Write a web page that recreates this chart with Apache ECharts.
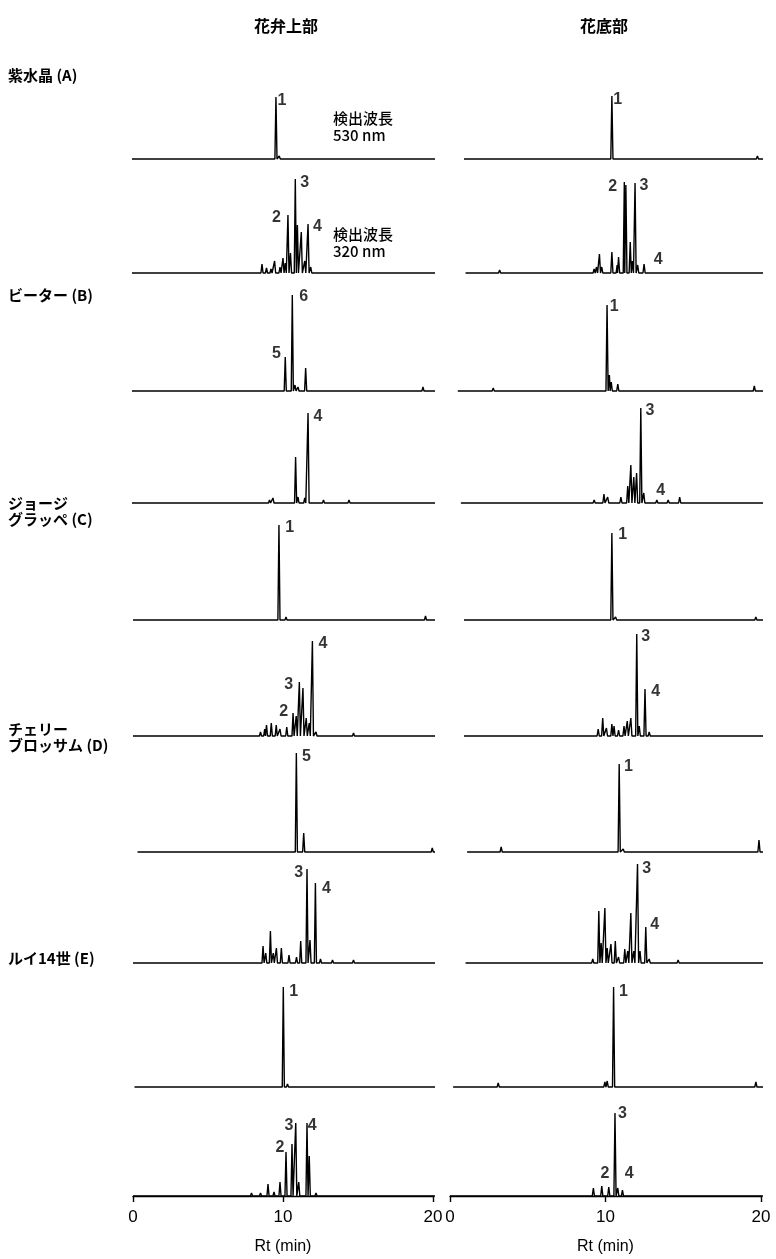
<!DOCTYPE html>
<html><head><meta charset="utf-8">
<script src="https://cdn.jsdelivr.net/npm/echarts@6/dist/echarts.min.js"></script>
<style>html,body{margin:0;padding:0;background:#fff}#c{width:776px;height:1259px}</style>
</head><body><div id="c"></div>
<script>
// ---------- data ----------
const columnTitles = ['花弁上部', '花底部'];
const varietyLabels = [['紫水晶 (A)'], ['ビーター (B)'], ['ジョージ', 'グラッペ (C)'], ['チェリー', 'ブロッサム (D)'], ['ルイ14世 (E)']];
const wavelengthNotes = [['検出波長', '530 nm'], ['検出波長', '320 nm']];
const xTickValues = [0, 10, 20];
const xAxisTitle = 'Rt (min)';

// peaks: [retention time (min), relative height]
// 花弁上部 (petal upper part)
const petalA530 = [[0.8,1],[9.53,62],[9.75,3],[19.6,2]];
const petalA320 = [[8.6,9],[8.9,5],[9.2,4],[9.44,12],[9.8,6],[10.0,15],[10.15,10],[10.33,58],[10.5,20],[10.82,94],[10.96,48],[11.22,41],[11.45,12],[11.67,49],[11.85,6],[12.3,2],[14.4,2]];
const petalB530 = [[1.78,2],[10.15,34],[10.62,96],[10.8,6],[11.0,4],[11.51,23],[12.0,2],[19.33,4]];
const petalB320 = [[9.1,3],[9.33,5],[10.84,46],[11.0,6],[11.45,5],[11.67,90],[12.7,3],[14.4,3]];
const petalC530 = [[9.73,95],[10.2,3],[19.5,4]];
const petalC320 = [[8.5,4],[8.78,7],[8.9,11],[9.22,13],[9.55,11],[9.8,7],[10.25,9],[10.67,23],[10.88,20],[11.09,54],[11.33,48],[11.55,18],[11.75,13],[11.96,95],[12.2,4],[14.7,3]];
const petalD530 = [[2.5,2],[10.89,99],[11.38,19],[19.95,4]];
const petalD320 = [[8.67,17],[8.85,10],[9.16,32],[9.35,10],[9.56,15],[9.89,15],[10.4,8],[10.9,6],[11.18,22],[11.6,94],[11.8,23],[12.16,80],[12.5,4],[13.3,3],[14.7,3]];
const petalE530 = [[10.02,100],[10.3,3],[19.2,1]];
const petalE320 = [[7.9,3],[8.5,3],[9.0,12],[9.4,4],[9.8,14],[10.2,44],[10.6,52],[10.85,73],[11.05,14],[11.6,73],[11.75,40],[12.2,3],[14.6,2]];
// 花底部 (flower base)
const baseA530 = [[3.19,1],[10.41,63],[19.77,3]];
const baseA320 = [[3.19,3],[8.78,2],[9.27,4],[9.42,6],[9.61,19],[9.76,6],[10.41,21],[10.75,8],[10.84,16],[11.21,91],[11.31,88],[11.59,31],[11.73,12],[11.9,90],[12.07,8],[12.48,9],[12.81,2],[13.39,2],[19.77,2]];
const baseB530 = [[2.78,3],[10.1,86],[10.25,16],[10.37,9],[10.79,7],[11.14,2],[11.73,2],[19.57,5]];
const baseB320 = [[9.27,3],[9.9,9],[10.14,6],[10.99,6],[11.43,17],[11.63,38],[11.82,26],[12.0,30],[12.27,95],[12.46,10],[13.3,3],[14.03,3],[14.77,6],[19.38,2]];
const baseC530 = [[3.1,1],[10.41,87],[10.65,3],[19.67,3]];
const baseC320 = [[9.53,7],[9.82,18],[10.06,8],[10.41,12],[10.55,10],[10.84,6],[11.19,10],[11.4,15],[11.63,18],[12.01,102],[12.17,10],[12.54,47],[12.81,4],[14.96,2],[19.77,2]];
const baseD530 = [[3.29,5],[10.88,88],[11.14,3],[19.87,12]];
const baseD320 = [[9.18,4],[9.57,52],[9.72,20],[9.96,55],[10.11,15],[10.35,19],[10.63,22],[10.84,6],[11.24,14],[11.43,12],[11.63,50],[11.82,12],[12.06,99],[12.22,12],[12.59,36],[12.81,4],[13.59,2],[14.67,3],[15.55,2],[19.77,2]];
const baseE530 = [[3.1,4],[9.96,5],[10.11,6],[10.52,100],[10.84,2],[19.67,5]];
const baseE320 = [[8.78,2],[9.22,8],[9.76,10],[10.21,9],[10.61,83],[10.79,8],[11.09,6],[11.63,2],[12.81,2]];

// baseline start of each trace (min); traces end at 20.2
const petalStarts = [-0.3, -0.3, -0.1, -0.3, 0, 0, 0.3, 0, 0.1, 0];
const baseStarts = [0.9, 1.0, 0.5, 0.7, 0.9, 0.9, 1.1, 1.0, 0.2, 0];

// peak number labels: [retention time, height, text]
const petalA530Labels = [[9.93,58,'1']];
const petalA320Labels = [[9.56,55,'2'],[11.44,90,'3'],[12.29,46,'4']];
const petalB530Labels = [[9.56,37,'5'],[11.38,94,'6']];
const petalB320Labels = [[12.33,86,'4']];
const petalC530Labels = [[10.44,92,'1']];
const petalC320Labels = [[10.04,24,'2'],[10.38,51,'3'],[12.67,92,'4']];
const petalD530Labels = [[11.56,95,'5']];
const petalD320Labels = [[11.04,90,'3'],[12.89,74,'4']];
const petalE530Labels = [[10.71,95,'1']];
const petalE320Labels = [[9.8,48,'2'],[10.4,70,'3'],[11.95,70,'4']];
const baseA530Labels = [[10.79,59,'1']];
const baseA320Labels = [[10.46,86,'2'],[12.48,87,'3'],[13.39,13,'4']];
const baseB530Labels = [[10.56,84,'1']];
const baseB320Labels = [[12.86,92,'3'],[13.55,12,'4']];
const baseC530Labels = [[11.1,85,'1']];
const baseC320Labels = [[12.59,99,'3'],[13.23,44,'4']];
const baseD530Labels = [[11.48,85,'1']];
const baseD320Labels = [[12.65,94,'3'],[13.16,38,'4']];
const baseE530Labels = [[11.16,95,'1']];
const baseE320Labels = [[9.96,22,'2'],[11.09,82,'3'],[11.53,22,'4']];

const petalTraces = [petalA530,petalA320,petalB530,petalB320,petalC530,petalC320,petalD530,petalD320,petalE530,petalE320];
const baseTraces = [baseA530,baseA320,baseB530,baseB320,baseC530,baseC320,baseD530,baseD320,baseE530,baseE320];
const petalLabels = [petalA530Labels,petalA320Labels,petalB530Labels,petalB320Labels,petalC530Labels,petalC320Labels,petalD530Labels,petalD320Labels,petalE530Labels,petalE320Labels];
const baseLabels = [baseA530Labels,baseA320Labels,baseB530Labels,baseB320Labels,baseC530Labels,baseC320Labels,baseD530Labels,baseD320Labels,baseE530Labels,baseE320Labels];

// ---------- layout ----------
const rowBaselines = [159, 273, 391, 503, 620, 736, 852, 963, 1087, 1196];
const colLeft = [133, 450];
const colWidth = [300, 311];
const PANEL_H = 110;
const HALF_W = 0.07;
const TRACE_END = 20.2;
const INK = '#000';
const JP = '"Noto Sans CJK JP", sans-serif';
const LAT = '"Liberation Sans", Arial, sans-serif';
const NARROW = '"Liberation Sans Narrow", "Liberation Sans", Arial, sans-serif';

function buildTrace(peaks, start) {
  const pts = [[start, 0], [TRACE_END, 0]];
  peaks.forEach(([t, h]) => { pts.push([t - HALF_W, 0], [t, h], [t + HALF_W, 0]); });
  pts.sort((a, b) => a[0] - b[0]);
  return pts;
}

const grids = [], xAxes = [], yAxes = [], series = [];
[petalTraces, baseTraces].forEach((traces, c) => {
  const labelSets = c === 0 ? petalLabels : baseLabels;
  const starts = c === 0 ? petalStarts : baseStarts;
  traces.forEach((peaks, r) => {
    const idx = grids.length;
    const isBottom = r === traces.length - 1;
    grids.push({ left: colLeft[c], width: colWidth[c], top: rowBaselines[r] - PANEL_H, height: PANEL_H });
    xAxes.push({
      gridIndex: idx, type: 'value', min: 0, max: 20, interval: 10,
      show: isBottom, offset: 6,
      axisLine: { show: true, lineStyle: { color: INK, width: 1.4 } },
      axisTick: { show: true, length: 6, lineStyle: { color: INK, width: 1.4 } },
      axisLabel: { show: true, color: INK, fontSize: 17, fontFamily: NARROW, margin: 7,
        customValues: xTickValues, formatter: v => String(v) },
      splitLine: { show: false },
      name: isBottom ? xAxisTitle : '', nameLocation: 'middle', nameGap: 37,
      nameTextStyle: { color: INK, fontSize: 16, fontFamily: NARROW }
    });
    yAxes.push({ gridIndex: idx, type: 'value', min: 0, max: PANEL_H, show: false, splitLine: { show: false } });
    series.push({
      type: 'line', xAxisIndex: idx, yAxisIndex: idx, data: buildTrace(peaks, starts[r]),
      showSymbol: false, symbol: 'none', animation: false, silent: true, clip: false,
      lineStyle: { color: INK, width: 1.4 }
    });
    series.push({
      type: 'scatter', xAxisIndex: idx, yAxisIndex: idx, symbolSize: 1, animation: false, silent: true,
      itemStyle: { color: 'rgba(0,0,0,0)' },
      label: { show: true, position: 'inside', color: INK, fontSize: 16, fontWeight: 'bold', fontFamily: LAT,
        formatter: p => p.data.txt },
      data: labelSets[r].map(([t, h, txt]) => ({ value: [t, h], txt }))
    });
  });
});

const graphics = [];
const colCenters = [286, 604];
columnTitles.forEach((t, i) => graphics.push({ type: 'text', left: colCenters[i] - 8 * t.length, top: 18,
  style: { text: t, font: 'bold 16px ' + JP, fill: INK } }));
const varietyTops = [67, 287, 495, 721, 950];
varietyLabels.forEach((lines, i) => graphics.push({ type: 'text', left: 8, top: varietyTops[i],
  style: { text: lines.join('\n'), font: 'bold 15px ' + JP, fill: INK, lineHeight: 16 } }));
const noteTops = [110, 226];
wavelengthNotes.forEach((lines, i) => graphics.push({ type: 'text', left: 333, top: noteTops[i],
  style: { text: lines.join('\n'), font: '500 15px ' + JP, fill: INK, lineHeight: 17 } }));

const chart = echarts.init(document.getElementById('c'), null, { renderer: 'canvas' });
chart.setOption({ animation: false, backgroundColor: '#fff', grid: grids, xAxis: xAxes, yAxis: yAxes, series, graphic: graphics });
</script></body></html>
